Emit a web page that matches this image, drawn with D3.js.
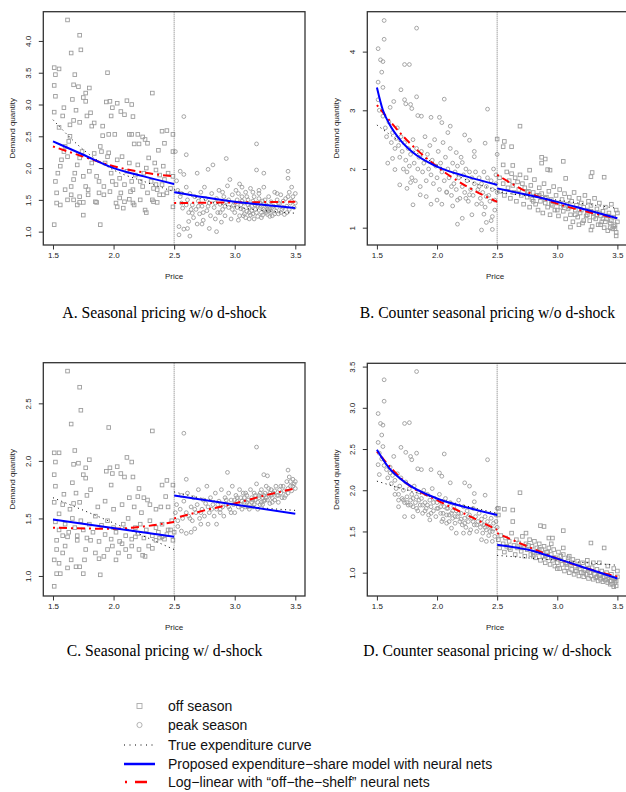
<!DOCTYPE html>
<html><head><meta charset="utf-8">
<script src="https://cdn.jsdelivr.net/npm/d3@7"></script>
<style>body{margin:0;background:#fff}svg{display:block}</style>
</head><body>
<svg id="c" width="626" height="792"></svg>
<script>
const xTicks = [1.5, 2.0, 2.5, 3.0, 3.5];
const titles = ["A. Seasonal pricing w/o d-shock","B. Counter seasonal pricing w/o d-shock","C. Seasonal pricing w/ d-shock","D. Counter seasonal pricing w/ d-shock"];
const yTicksA = [1.0,1.5,2.0,2.5,3.0,3.5,4.0];
const yTicksB = [1,2,3,4];
const yTicksC = [1.0,1.5,2.0,2.5];
const yTicksD = [1.0,1.5,2.0,2.5,3.0,3.5];
const legendLabels = ["off season","peak season","True expenditure curve","Proposed expenditure\u2212share model with neural nets","Log\u2212linear with \u201coff\u2212the\u2212shelf\u201d neural nets"];

// Panel A points
const aOff = [[1.62,4.33],[1.72,4.09],[1.73,3.86],[1.65,3.81],[1.68,3.47],[1.51,3.58],[1.55,3.56],[1.52,3.47],[1.51,3.30],[1.67,3.31],[1.71,3.28],[1.80,3.26],[1.77,3.18],[1.75,3.11],[1.77,3.05],[1.52,3.13],[1.66,3.08],[1.59,2.95],[1.51,2.88],[1.69,2.91],[1.78,2.82],[1.81,2.87],[1.67,2.75],[1.72,2.72],[1.58,2.82],[1.64,2.68],[1.55,2.64],[1.82,2.66],[1.84,2.71],[1.91,2.66],[1.95,3.50],[1.94,3.04],[1.97,3.05],[2.03,3.02],[1.99,2.95],[1.98,2.82],[2.06,2.89],[2.11,3.06],[2.15,3.00],[2.09,2.84],[2.16,2.81],[2.32,3.18],[2.01,2.53],[1.96,2.53],[1.91,2.51],[2.13,2.53],[2.15,2.53],[2.20,2.53],[2.24,2.49],[2.26,2.45],[2.28,2.39],[2.40,2.58],[2.44,2.59],[2.49,2.53],[2.42,2.39],[2.37,2.28],[2.49,2.26],[2.21,2.38],[2.17,2.38],
[1.51,1.11],[1.89,1.11],[1.75,1.26],[1.53,1.45],[1.56,1.42],[1.62,1.50],[1.67,1.50],[1.70,1.42],[1.72,1.46],[1.75,1.46],[1.85,1.47],[1.86,1.46],[1.92,1.58],[2.02,1.45],[2.03,1.39],[2.08,1.37],[2.09,1.47],[2.16,1.45],[2.13,1.51],[2.17,1.42],[2.22,1.50],[2.26,1.34],[2.27,1.30],[2.32,1.50],[2.33,1.47],[2.36,1.46],[2.41,1.58],[2.49,1.39],[2.05,1.53],
[1.52,1.79],[1.54,1.92],[1.56,2.03],[1.57,2.13],[1.59,2.26],[1.60,2.34],[1.62,2.18],[1.63,2.42],[1.64,2.50],[1.65,1.71],[1.67,1.82],[1.68,1.92],[1.70,2.05],[1.72,2.16],[1.74,2.26],[1.75,1.87],[1.77,1.71],[1.79,1.66],[1.80,1.95],[1.82,2.08],[1.84,2.23],[1.86,1.87],[1.88,1.79],[1.89,2.34],[1.90,2.26],[1.92,1.71],[1.93,2.08],[1.95,2.18],[1.96,2.24],[1.98,1.92],[1.99,1.79],[2.02,1.74],[2.03,2.13],[2.05,1.84],[2.07,2.18],[2.09,1.74],[2.11,1.95],[2.13,2.08],[2.15,1.79],[2.16,1.66],[2.18,1.89],[2.20,2.05],[2.22,1.79],[2.24,1.71],[2.25,1.92],[2.27,2.00],[2.29,2.16],[2.31,1.79],[2.33,1.68],[2.34,2.08],[2.35,1.97],[2.36,1.66],[2.38,1.89],[2.40,1.74],[2.41,2.03],[2.42,1.82],[2.44,1.61],[2.45,1.92],[2.47,1.68],[2.49,1.87],
[1.53,1.61],[1.60,1.66],[1.65,1.58],[1.72,1.55],[1.79,1.58],[1.88,1.61],[1.97,1.63],[2.06,1.61],[2.14,1.63],[2.28,1.61],[2.35,1.74],[2.38,1.58]];
const aPeak = [[2.58,2.81],[3.18,2.38],[2.60,2.21],[2.93,2.15],[2.51,2.26],[3.44,1.95],[3.18,1.97],[3.24,1.92],[2.61,1.05],[2.63,0.93],[2.54,0.95],[2.54,1.08],[2.58,1.04],[2.85,1.00],[2.79,1.05],[2.69,1.12],[2.73,1.12],[2.62,1.16],[2.65,1.29],
[2.52,1.80],[2.53,1.65],[2.55,1.55],[2.56,1.45],[2.57,1.37],[2.55,1.95],[2.58,1.90],[2.60,1.70],[2.61,1.50],[2.62,1.30],[2.63,1.60],[2.65,1.42],[2.66,1.22],[2.67,1.55],[2.68,1.35],[2.69,1.92],[2.70,1.48],[2.71,1.28],[2.72,1.62],[2.73,1.40],[2.74,1.18],[2.75,1.70],[2.76,1.52],[2.77,1.33],[2.78,1.98],[2.79,1.45],[2.80,1.25],[2.81,1.60],[2.82,2.05],[2.83,1.38],[2.84,1.20],[2.85,1.52],[2.86,1.30],[2.87,1.65],[2.88,1.43],[2.89,1.15],[2.90,1.35],[2.91,1.55],[2.92,1.25],[2.93,1.47],[2.94,1.72],[2.95,1.38],[2.96,1.82],[2.97,1.20],[2.98,1.58],[2.99,1.42],[3.00,1.30],[3.01,1.65],[3.02,1.50],[3.03,1.18],[3.04,1.75],[3.05,1.36],[3.06,1.55],[3.07,1.25],[3.08,1.45],[3.09,1.62],[3.10,1.32],[3.11,1.50],[3.12,1.20],[3.13,1.68],[3.14,1.40],[3.15,1.28],[3.16,1.55],[3.17,1.35],[3.18,1.45],[3.19,1.24],[3.20,1.60],[3.21,1.38],[3.22,1.30],[3.23,1.48],[3.24,1.70],[3.25,1.33],[3.26,1.42],[3.27,1.27],[3.28,1.55],[3.29,1.36],[3.30,1.47],[3.31,1.25],[3.32,1.40],[3.33,1.62],[3.34,1.32],[3.35,1.50],[3.36,1.28],[3.37,1.44],[3.38,1.58],[3.39,1.35],[3.40,1.48],[3.41,1.27],[3.42,1.52],[3.43,1.40],[3.44,1.84],[3.45,1.62],[3.46,1.45],[3.47,1.70],[3.48,1.55],[3.49,1.38],[3.50,1.60],[3.50,1.45],
[3.05,1.42],[3.08,1.28],[3.12,1.38],[3.15,1.48],[3.18,1.30],[3.21,1.45],[3.24,1.35],[3.27,1.40],[3.30,1.32],[3.10,1.55],[3.00,1.45],[2.95,1.50],[3.20,1.52],[3.25,1.50],[3.35,1.38],[3.03,1.60],[3.13,1.26],[3.23,1.26],[3.28,1.33],[3.15,1.62],
[3.02,1.38],[3.04,1.25],[3.06,1.48],[3.09,1.22],[3.11,1.42],[3.14,1.33],[3.16,1.20],[3.19,1.40],[3.22,1.22],[3.24,1.44],[3.26,1.30],[3.29,1.24],[3.31,1.38],[3.33,1.28],[3.36,1.45],[3.38,1.30],[3.40,1.38],[3.43,1.30],[3.45,1.35],[3.47,1.48],[3.07,1.35],[3.17,1.42],[3.27,1.35],[3.12,1.30],[3.22,1.40],[2.98,1.35],[2.92,1.40],[2.88,1.30],[2.84,1.45],[2.78,1.40],[2.74,1.30],[2.70,1.40],[2.64,1.35],[2.60,1.42],[2.56,1.60],[2.90,1.62],[3.06,1.70],[3.20,1.65],[3.35,1.60],[3.44,1.55]];

// Panel B points
const bPeak = [[1.56,4.53],[1.83,4.40],[1.51,4.05],[1.53,3.86],[1.55,3.83],[1.54,3.65],[1.56,4.21],[1.51,3.48],[1.55,3.39],[1.70,3.35],[1.73,3.78],[1.77,3.78],[1.83,3.23],[2.06,3.19],[1.64,3.15],[1.73,3.18],[1.74,3.11],[1.78,3.10],[1.51,3.18],[1.52,3.00],[1.61,3.05],[1.79,3.03],[1.84,2.91],[1.87,2.90],[1.95,2.88],[2.02,2.88],[2.04,2.79],[2.11,2.73],[2.09,2.62],[2.23,2.58],[2.27,2.49],[2.40,2.44],[2.42,3.02],[2.31,2.30],[2.31,2.21],[2.16,2.28],[2.21,2.11],[1.59,2.10],[1.63,2.18],[1.65,1.99],
[2.37,0.96],[2.46,0.97],[2.45,1.12],[2.41,1.09],[2.46,1.19],[2.29,1.22],[2.21,1.16],[2.17,1.06],[2.39,1.23],[2.13,1.37],[2.17,1.47],[1.95,1.40],[1.80,1.39],[2.04,1.40],[2.00,1.47],[1.91,1.53],[1.86,1.56],[2.24,1.50],[2.27,1.56],[2.35,1.70],[2.41,1.53],[2.48,1.47],[2.37,1.41],[2.12,1.70],[2.08,1.61],[1.69,1.73],[1.75,1.67],[1.78,1.77],
[1.55,2.90],[1.57,2.70],[1.58,2.55],[1.60,2.80],[1.62,2.45],[1.63,2.62],[1.65,2.35],[1.66,2.52],[1.67,2.70],[1.68,2.40],[1.69,2.20],[1.70,2.55],[1.71,2.30],[1.72,2.00],[1.73,2.45],[1.74,2.15],[1.75,1.95],[1.76,2.35],[1.77,2.05],[1.78,2.25],[1.79,1.85],[1.80,2.50],[1.81,2.10],[1.82,1.80],[1.83,2.35],[1.84,2.00],[1.85,2.20],[1.86,1.70],[1.87,2.30],[1.88,1.95],[1.89,2.10],[1.90,2.55],[1.91,1.80],[1.92,2.25],[1.93,2.00],[1.94,2.40],[1.95,1.90],[1.96,2.15],[1.97,1.75],[1.98,2.50],[1.99,2.05],[2.00,1.85],[2.01,2.30],[2.02,1.65],[2.03,2.10],[2.04,1.95],[2.05,2.45],[2.06,1.80],[2.07,2.20],[2.08,1.60],[2.09,2.00],[2.10,1.85],[2.11,2.35],[2.12,1.55],[2.13,2.10],[2.14,1.75],[2.15,1.95],[2.16,1.65],[2.17,2.05],[2.18,1.85],[2.19,1.50],[2.20,2.20],[2.21,1.70],[2.22,1.90],[2.23,1.60],[2.24,2.00],[2.25,1.80],[2.26,1.45],[2.27,1.95],[2.28,1.65],[2.29,1.85],[2.30,1.55],[2.31,1.75],[2.32,1.95],[2.33,1.40],[2.34,1.65],[2.35,1.85],[2.36,1.50],[2.37,1.75],[2.38,1.60],[2.39,1.95],[2.40,1.35],[2.41,1.70],[2.42,1.85],[2.43,1.55],[2.44,1.45],[2.45,1.80],[2.46,1.65],[2.47,2.00],[2.48,1.30],[2.49,1.90],[2.50,2.25],[2.50,1.60],[2.49,1.75]];
const bOff = [[2.69,2.73],[2.50,2.51],[2.56,2.47],[2.55,2.38],[2.62,2.38],[3.05,2.13],[2.87,2.20],[2.90,2.17],[2.55,2.07],[2.63,2.06],[2.77,1.98],[2.92,1.99],[2.94,1.98],[3.39,1.86],[3.28,1.87],[3.29,1.94],[3.07,1.84],[2.87,2.10],[3.28,0.96],[3.49,0.86],[3.18,1.05],[3.11,1.01],
[2.52,1.85],[2.53,1.62],[2.55,1.75],[2.56,1.55],[2.58,1.95],[2.59,1.68],[2.60,1.80],[2.61,1.50],[2.62,1.92],[2.63,1.72],[2.64,1.60],[2.65,1.85],[2.66,1.45],[2.67,1.78],[2.68,1.65],[2.69,1.90],[2.70,1.55],[2.71,1.75],[2.72,1.40],[2.73,1.68],[2.74,1.85],[2.75,1.52],[2.76,1.62],[2.77,1.35],[2.78,1.72],[2.79,1.48],[2.80,1.60],[2.81,1.82],[2.82,1.40],[2.83,1.55],[2.84,1.30],[2.85,1.68],[2.86,1.45],[2.87,1.58],[2.88,1.25],[2.89,1.75],[2.90,1.42],[2.91,1.52],[2.92,1.35],[2.93,1.62],[2.94,1.22],[2.95,1.48],[2.96,1.38],[2.97,1.70],[2.98,1.30],[2.99,1.55],[3.00,1.42],[3.01,1.20],[3.02,1.65],[3.03,1.35],[3.04,1.48],[3.05,1.28],[3.06,1.58],[3.07,1.15],[3.08,1.40],[3.09,1.32],[3.10,1.52],[3.11,1.22],[3.12,1.45],[3.13,1.10],[3.14,1.60],[3.15,1.30],[3.16,1.38],[3.17,1.18],[3.18,1.50],[3.19,1.25],[3.20,1.42],[3.21,1.08],[3.22,1.35],[3.23,1.55],[3.24,1.20],[3.25,1.30],[3.26,1.45],[3.27,1.12],[3.28,1.38],[3.29,1.02],[3.30,1.25],[3.31,1.50],[3.32,1.15],[3.33,1.32],[3.34,1.05],[3.35,1.42],[3.36,1.20],[3.37,1.10],[3.38,1.28],[3.39,1.00],[3.40,1.35],[3.41,1.15],[3.42,0.95],[3.43,1.25],[3.44,1.08],[3.45,1.40],[3.46,0.98],[3.47,1.18],[3.48,1.05],[3.49,0.92],[3.50,1.25],[3.50,1.10],[3.49,1.30],
[3.20,1.30],[3.25,1.22],[3.30,1.18],[3.35,1.25],[3.40,1.10],[3.45,1.12],[3.47,1.02],[3.42,1.20],[3.38,1.15],[3.33,1.22],[3.28,1.28],[3.15,1.22],[3.10,1.35],[3.05,1.38],[3.00,1.30],[2.95,1.40],[2.90,1.50],[2.85,1.55],[2.80,1.45],[2.75,1.60],[3.36,1.05],[3.44,1.00],[3.48,0.98],[3.22,1.12]];

// Panel C points
const cOff = [[1.62,2.78],[1.72,2.64],[1.73,2.44],[1.65,2.32],[1.96,2.29],[2.32,2.26],[1.68,2.09],[1.51,2.07],[1.55,2.07],[1.52,1.99],[1.67,1.97],[1.71,1.98],[1.80,2.01],[1.77,1.94],[1.75,1.88],[1.51,1.88],[1.77,1.85],[1.52,1.78],[1.66,1.81],[1.94,1.91],[1.97,1.94],[2.03,1.95],[1.99,1.89],[1.98,1.79],[2.06,1.89],[2.11,2.03],[2.15,1.99],[2.09,1.86],[2.16,1.86],[1.59,1.71],[1.51,1.64],[1.69,1.72],[1.78,1.70],[1.81,1.75],[1.67,1.63],[1.72,1.64],[1.58,1.62],[1.64,1.58],[1.55,1.54],[2.40,1.79],[2.44,1.83],[2.49,1.79],[2.39,1.60],[2.43,1.69],[2.20,1.69],[2.21,1.76],[2.25,1.68],[2.28,1.66],[2.13,1.68],[2.17,1.60],
[1.51,0.91],[1.53,1.02],[1.56,1.02],[1.89,1.01],[1.75,1.02],[1.72,1.08],[1.69,1.08],[1.62,1.07],[1.65,1.14],[1.76,1.14],[1.55,1.11],[1.51,1.14],[1.53,1.23],[1.58,1.20],[1.60,1.26],[1.53,1.31],[1.62,1.34],[1.70,1.31],[1.77,1.23],[1.81,1.31],[1.85,1.20],[1.88,1.15],[1.92,1.17],[1.95,1.23],[1.99,1.26],[2.02,1.14],[2.04,1.20],[2.07,1.28],[2.10,1.23],[2.13,1.17],[2.15,1.26],[2.18,1.34],[2.21,1.23],[2.24,1.18],[2.26,1.17],[2.29,1.26],[2.32,1.24],[2.35,1.31],[2.38,1.33],[2.40,1.34],[2.44,1.36],[2.47,1.40],[2.49,1.31],
[1.52,1.47],[1.55,1.40],[1.58,1.35],[1.60,1.45],[1.63,1.38],[1.66,1.50],[1.68,1.42],[1.70,1.35],[1.73,1.48],[1.75,1.40],[1.78,1.33],[1.80,1.45],[1.83,1.38],[1.85,1.52],[1.88,1.30],[1.90,1.44],[1.93,1.36],[1.95,1.48],[1.98,1.32],[2.00,1.42],[2.02,1.38],[2.05,1.30],[2.08,1.45],[2.10,1.35],[2.12,1.50],[2.15,1.32],[2.18,1.42],[2.20,1.37],[2.22,1.45],[2.25,1.33],[2.27,1.40],[2.30,1.48],[2.32,1.35],[2.35,1.42],[2.37,1.38],[2.40,1.45],[2.42,1.32],[2.45,1.40],[2.48,1.48],[2.50,1.38],[1.87,1.60],[1.93,1.65],[2.00,1.58],[2.07,1.62],[2.23,1.55],[2.30,1.62],[2.35,1.58],[2.45,1.60]];
const cPeak = [[2.58,2.24],[3.18,2.12],[2.94,1.90],[2.60,1.84],[3.44,1.92],[3.24,1.88],[3.27,1.87],[2.56,1.39],[2.60,1.37],[2.64,1.38],[2.67,1.41],[2.72,1.45],[2.78,1.45],[2.85,1.45],[2.53,1.43],
[2.51,1.55],[2.52,1.62],[2.53,1.48],[2.55,1.58],[2.56,1.70],[2.57,1.50],[2.58,1.65],[2.60,1.55],[2.61,1.72],[2.62,1.52],[2.64,1.60],[2.65,1.48],[2.66,1.68],[2.68,1.55],[2.69,1.62],[2.70,1.75],[2.71,1.50],[2.73,1.58],[2.74,1.66],[2.75,1.52],[2.77,1.78],[2.78,1.60],[2.79,1.55],[2.80,1.68],[2.82,1.62],[2.83,1.52],[2.84,1.72],[2.85,1.58],[2.87,1.65],[2.88,1.55],[2.89,1.75],[2.90,1.60],[2.91,1.52],[2.92,1.68],[2.93,1.62],[2.95,1.72],[2.96,1.58],[2.97,1.66],[2.98,1.78],[2.99,1.62],[3.00,1.55],[3.01,1.70],[3.02,1.65],[3.03,1.60],[3.04,1.75],[3.05,1.68],[3.06,1.58],[3.07,1.72],[3.08,1.64],[3.09,1.60],[3.10,1.70],[3.11,1.66],[3.12,1.62],[3.13,1.75],[3.14,1.68],[3.15,1.60],[3.16,1.72],[3.17,1.66],[3.18,1.80],[3.19,1.64],[3.20,1.70],[3.21,1.62],[3.22,1.75],[3.23,1.68],[3.24,1.65],[3.25,1.72],[3.26,1.78],[3.27,1.66],[3.28,1.70],[3.29,1.63],[3.30,1.75],[3.31,1.68],[3.32,1.72],[3.33,1.66],[3.34,1.78],[3.35,1.70],[3.36,1.64],[3.37,1.75],[3.38,1.72],[3.39,1.68],[3.40,1.78],[3.41,1.74],[3.42,1.70],[3.43,1.82],[3.44,1.76],[3.45,1.86],[3.46,1.78],[3.47,1.74],[3.48,1.84],[3.49,1.80],[3.50,1.76],[3.50,1.82],
[3.05,1.62],[3.10,1.64],[3.15,1.66],[3.20,1.68],[3.25,1.66],[3.30,1.70],[3.12,1.58],[3.22,1.64],[3.28,1.76],[3.00,1.66],[2.95,1.60],[2.88,1.58],
[3.02,1.68],[3.06,1.65],[3.09,1.72],[3.11,1.60],[3.14,1.64],[3.17,1.70],[3.19,1.58],[3.21,1.72],[3.23,1.62],[3.26,1.68],[3.29,1.72],[3.31,1.64],[3.33,1.74],[3.36,1.70],[3.38,1.78],[3.41,1.68],[3.44,1.72],[3.46,1.82],[3.48,1.78],[3.08,1.68],[3.16,1.62],[3.24,1.70],[2.97,1.55],[2.93,1.66],[2.86,1.62],[2.81,1.58],[2.76,1.63],[2.72,1.55],[2.67,1.58],[2.63,1.50]];

// Panel D points
const dPeak = [[1.83,3.44],[1.56,3.34],[1.56,3.08],[1.51,2.93],[1.53,2.81],[1.55,2.79],[1.54,2.67],[1.51,2.58],[1.55,2.53],[1.73,2.81],[1.77,2.82],[1.70,2.52],[1.83,2.45],[2.06,2.44],[2.42,2.37],[1.64,2.41],[1.74,2.46],[1.78,2.41],[1.51,2.31],[1.52,2.19],[1.61,2.21],[1.79,2.37],[1.84,2.26],[1.87,2.25],[1.95,2.25],[2.02,2.21],[2.04,2.17],[2.11,2.09],[2.23,2.09],[2.27,2.05],[2.40,1.94],[2.31,1.96],[2.31,1.86],
[2.16,1.48],[2.22,1.48],[2.27,1.48],[2.37,1.40],[2.41,1.38],[2.46,1.38],[2.12,1.54],[2.08,1.60],[2.04,1.62],[1.94,1.64],[1.80,1.68],[1.73,1.68],[1.68,1.80],
[1.52,2.45],[1.54,2.38],[1.56,2.30],[1.58,2.25],[1.59,2.15],[1.61,2.28],[1.62,2.08],[1.63,2.18],[1.65,2.12],[1.66,2.02],[1.67,2.20],[1.68,1.95],[1.69,2.05],[1.70,2.15],[1.71,1.90],[1.72,2.00],[1.73,1.85],[1.74,2.10],[1.75,1.92],[1.76,1.82],[1.77,2.02],[1.78,1.88],[1.79,1.95],[1.80,1.80],[1.81,2.05],[1.82,1.85],[1.83,1.92],[1.84,1.75],[1.85,1.98],[1.86,1.82],[1.87,1.90],[1.88,1.72],[1.89,2.00],[1.90,1.85],[1.91,1.78],[1.92,1.95],[1.93,1.70],[1.94,1.88],[1.95,1.80],[1.96,2.02],[1.97,1.75],[1.98,1.90],[1.99,1.68],[2.00,1.85],[2.01,1.78],[2.02,1.95],[2.03,1.72],[2.04,1.85],[2.05,1.65],[2.06,1.80],[2.07,1.90],[2.08,1.70],[2.09,1.78],[2.10,1.62],[2.11,1.85],[2.12,1.72],[2.13,1.66],[2.14,1.80],[2.15,1.60],[2.16,1.75],[2.17,1.68],[2.18,1.88],[2.19,1.62],[2.20,1.72],[2.21,1.58],[2.22,1.80],[2.23,1.66],[2.24,1.55],[2.25,1.75],[2.26,1.62],[2.27,1.70],[2.28,1.52],[2.29,1.66],[2.30,1.78],[2.31,1.58],[2.32,1.68],[2.33,1.50],[2.34,1.62],[2.35,1.72],[2.36,1.55],[2.37,1.65],[2.38,1.48],[2.39,1.58],[2.40,1.68],[2.41,1.52],[2.42,1.62],[2.43,1.45],[2.44,1.56],[2.45,1.66],[2.46,1.50],[2.47,1.60],[2.48,1.44],[2.49,1.70],[2.50,1.55],[2.50,1.78],[2.49,1.62],
[1.72,1.88],[1.75,1.85],[1.78,1.82],[1.80,1.90],[1.83,1.78],[1.85,1.88],[1.88,1.82],[1.90,1.75],[1.92,1.82],[1.95,1.72],[1.97,1.85],[2.00,1.78],[2.03,1.80],[2.05,1.72],[2.08,1.78],[2.10,1.70],[2.13,1.75],[2.15,1.68],[2.18,1.72],[2.20,1.65],[2.23,1.60],[2.26,1.68],[2.30,1.62],[2.33,1.58],[2.37,1.60],[2.40,1.55],[2.44,1.50],[2.47,1.53],[1.68,1.88],[1.65,1.95]];
const dOff = [[2.69,1.97],[2.63,1.76],[2.56,1.77],[2.51,1.70],[2.51,1.78],[2.86,1.57],[2.89,1.56],[3.05,1.51],[3.39,1.30],[3.28,1.36],[2.63,1.62],[2.74,1.48],[2.93,1.42],[2.96,1.42],
[2.51,1.40],[2.52,1.30],[2.53,1.45],[2.55,1.35],[2.56,1.25],[2.57,1.42],[2.58,1.32],[2.60,1.38],[2.61,1.28],[2.62,1.48],[2.64,1.33],[2.65,1.22],[2.66,1.40],[2.67,1.30],[2.68,1.36],[2.70,1.26],[2.71,1.44],[2.72,1.32],[2.73,1.20],[2.74,1.35],[2.75,1.28],[2.77,1.40],[2.78,1.22],[2.79,1.32],[2.80,1.25],[2.81,1.38],[2.82,1.18],[2.83,1.30],[2.84,1.24],[2.85,1.35],[2.86,1.15],[2.87,1.28],[2.88,1.20],[2.89,1.32],[2.90,1.12],[2.91,1.25],[2.92,1.18],[2.93,1.30],[2.94,1.10],[2.95,1.22],[2.96,1.15],[2.97,1.28],[2.98,1.08],[2.99,1.18],[3.00,1.12],[3.01,1.25],[3.02,1.05],[3.03,1.15],[3.04,1.10],[3.05,1.22],[3.06,1.02],[3.07,1.12],[3.08,1.06],[3.09,1.18],[3.10,1.00],[3.11,1.10],[3.12,1.04],[3.13,1.16],[3.14,0.98],[3.15,1.08],[3.16,1.02],[3.17,1.14],[3.18,0.96],[3.19,1.05],[3.20,1.00],[3.21,1.12],[3.22,0.95],[3.23,1.03],[3.24,0.98],[3.25,1.10],[3.26,0.93],[3.27,1.00],[3.28,0.96],[3.29,1.06],[3.30,0.92],[3.31,0.98],[3.32,0.94],[3.33,1.04],[3.34,0.90],[3.35,0.97],[3.36,0.92],[3.37,1.02],[3.38,0.89],[3.39,0.95],[3.40,0.91],[3.41,1.00],[3.42,0.88],[3.43,0.94],[3.44,0.90],[3.45,0.98],[3.46,0.86],[3.47,0.92],[3.48,0.88],[3.49,0.84],[3.50,0.95],[3.50,1.02],[3.49,0.90],
[3.10,1.20],[3.25,1.15],[3.30,1.12],[3.35,1.12],[3.42,1.08],[3.47,1.05],[2.95,1.35],[3.05,1.30],
[2.60,1.30],[2.70,1.30],[2.80,1.20],[2.90,1.20],[3.00,1.05],[3.08,1.10],[3.15,1.02],[3.22,1.00],[3.28,1.00],[3.33,0.95],[3.38,0.94],[3.42,0.92],[3.45,0.90],[3.48,0.93],[3.44,0.86],[3.47,0.83],[3.36,0.98],[3.26,1.05],[3.18,1.08],[3.12,1.12],[3.03,1.20],[2.97,1.18],[2.92,1.25],[2.85,1.28],[2.76,1.33]];

// Curves: true (dotted), proposed (blue), log-linear (red), each split at 2.5
const aTrue = [[[1.5,2.76],[1.75,2.29],[2.0,1.97],[2.25,1.79],[2.5,1.63]],[[2.5,1.66],[2.75,1.50],[3.0,1.39],[3.25,1.33],[3.5,1.29]]];
const aProp = [[[1.5,2.42],[1.75,2.21],[2.0,2.0],[2.25,1.87],[2.5,1.75]],[[2.5,1.62],[2.75,1.54],[3.0,1.47],[3.25,1.42],[3.5,1.37]]];
const aLog  = [[[1.5,2.34],[1.75,2.18],[2.0,2.03],[2.25,1.93],[2.5,1.87]],[[2.5,1.45],[3.0,1.46],[3.5,1.47]]];
const bTrue = [[[1.5,2.75],[1.75,2.38],[2.0,2.07],[2.25,1.81],[2.5,1.64]],[[2.5,1.61],[3.0,1.47],[3.5,1.33]]];
const bProp = [[[1.5,3.39],[1.55,3.0],[1.6,2.78],[1.7,2.48],[1.8,2.28],[2.0,2.04],[2.25,1.87],[2.5,1.73]],[[2.5,1.67],[2.75,1.56],[3.0,1.44],[3.25,1.30],[3.5,1.16]]];
const bLog  = [[[1.5,3.09],[1.75,2.49],[2.0,2.04],[2.25,1.70],[2.5,1.44]],[[2.5,1.90],[2.75,1.61],[3.0,1.41],[3.25,1.27],[3.5,1.16]]];
const cTrue = [[[1.5,1.68],[2.0,1.46],[2.5,1.23]],[[2.5,1.73],[3.0,1.62],[3.5,1.57]]];
const cProp = [[[1.5,1.49],[2.5,1.34]],[[2.5,1.70],[3.5,1.54]]];
const cLog  = [[[1.5,1.42],[2.0,1.41],[2.25,1.43],[2.5,1.47]],[[2.5,1.50],[2.75,1.57],[3.0,1.63],[3.25,1.70],[3.5,1.76]]];
const dTrue = [[[1.5,2.11],[2.0,1.90],[2.5,1.72]],[[2.5,1.21],[3.0,1.15],[3.5,1.09]]];
const dProp = [[[1.5,2.49],[1.6,2.27],[1.75,2.08],[2.0,1.90],[2.25,1.79],[2.5,1.70]],[[2.5,1.34],[2.75,1.28],[3.0,1.17],[3.25,1.05],[3.5,0.93]]];
const dLog  = [[[1.5,2.47],[1.75,2.08],[2.0,1.88],[2.25,1.70],[2.5,1.52]],[[2.5,1.48],[2.75,1.32],[3.0,1.17],[3.25,1.05],[3.5,0.95]]];

const svg = d3.select("#c");
const GRAY = "#9c9c9c";
const panels = [
  {L:43.3,R:305,T:11.7,B:245,yd:[0.79,4.46],yt:yTicksA,fmt:d3.format(".1f"),title:titles[0],tx:164.5,ty:318,off:aOff,peak:aPeak,tr:aTrue,pr:aProp,lg:aLog},
  {L:367.3,R:627,T:11.7,B:245,yd:[0.705,4.68],yt:yTicksB,fmt:d3.format("d"),title:titles[1],tx:487.5,ty:318,off:bOff,peak:bPeak,tr:bTrue,pr:bProp,lg:bLog},
  {L:43.3,R:305,T:362.7,B:596,yd:[0.826,2.853],yt:yTicksC,fmt:d3.format(".1f"),title:titles[2],tx:164.5,ty:656,off:cOff,peak:cPeak,tr:cTrue,pr:cProp,lg:cLog},
  {L:367.3,R:627,T:363.3,B:596,yd:[0.717,3.54],yt:yTicksD,fmt:d3.format(".1f"),title:titles[3],tx:487.5,ty:656,off:dOff,peak:dPeak,tr:dTrue,pr:dProp,lg:dLog}
];

panels.forEach(p => {
  const x = d3.scaleLinear().domain([1.42,3.58]).range([p.L,p.R]);
  const y = d3.scaleLinear().domain(p.yd).range([p.B,p.T]);
  const g = svg.append("g");
  const s = 3.6;
  g.selectAll(".sq").data(p.off).join("rect")
    .attr("x", d => x(d[0]) - s/2).attr("y", d => y(d[1]) - s/2)
    .attr("width", s).attr("height", s)
    .attr("fill","none").attr("stroke",GRAY).attr("stroke-width",0.9);
  g.selectAll(".ci").data(p.peak).join("circle")
    .attr("cx", d => x(d[0])).attr("cy", d => y(d[1])).attr("r", 1.9)
    .attr("fill","none").attr("stroke",GRAY).attr("stroke-width",0.9);
  g.append("line").attr("x1",x(2.5)).attr("x2",x(2.5)).attr("y1",p.T).attr("y2",p.B)
    .attr("stroke","#777").attr("stroke-width",1).attr("stroke-dasharray","1,1");
  const line = d3.line().x(d=>x(d[0])).y(d=>y(d[1])).curve(d3.curveMonotoneX);
  p.tr.forEach(seg => g.append("path").attr("d",line(seg)).attr("fill","none")
    .attr("stroke","#000").attr("stroke-width",1).attr("stroke-dasharray","1,3.5"));
  p.lg.forEach(seg => g.append("path").attr("d",line(seg)).attr("fill","none")
    .attr("stroke","#ff0000").attr("stroke-width",2).attr("stroke-dasharray","2,4,8,4"));
  p.pr.forEach(seg => g.append("path").attr("d",line(seg)).attr("fill","none")
    .attr("stroke","#0000ff").attr("stroke-width",2));
  g.append("rect").attr("x",p.L).attr("y",p.T).attr("width",p.R-p.L).attr("height",p.B-p.T)
    .attr("fill","none").attr("stroke","#333").attr("stroke-width",1.3);
  const xa = g.append("g").attr("transform",`translate(0,${p.B})`)
    .call(d3.axisBottom(x).tickValues(xTicks).tickFormat(d3.format(".1f")).tickSize(4.5).tickPadding(3));
  xa.select(".domain").remove();
  xa.selectAll("text").attr("font-family","Liberation Sans, Arial, sans-serif").attr("font-size",8).attr("fill","#222");
  xa.selectAll("line").attr("stroke","#333");
  const ya = g.append("g").attr("transform",`translate(${p.L},0)`)
    .call(d3.axisLeft(y).tickValues(p.yt).tickFormat(p.fmt).tickSize(4.5).tickPadding(0));
  ya.select(".domain").remove();
  ya.selectAll("line").attr("stroke","#333");
  ya.selectAll("text").attr("font-family","Liberation Sans, Arial, sans-serif").attr("font-size",8).attr("fill","#222")
    .attr("transform","rotate(-90)").attr("x",0).attr("y",-12).attr("dy",0).attr("text-anchor","middle");
  g.append("text").attr("x",(p.L+p.R)/2 - (p.R>620?2:0)).attr("y",p.B+34).attr("text-anchor","middle")
    .attr("font-family","Liberation Sans, Arial, sans-serif").attr("font-size",8).attr("fill","#222").text("Price");
  g.append("text").attr("transform",`translate(${p.L-28},${(p.T+p.B)/2}) rotate(-90)`).attr("text-anchor","middle")
    .attr("font-family","Liberation Sans, Arial, sans-serif").attr("font-size",8).attr("fill","#222").text("Demand quantity");
  svg.append("text").attr("x",p.tx).attr("y",p.ty).attr("text-anchor","middle")
    .attr("font-family","Liberation Serif, Times New Roman, serif").attr("font-size",15.7).attr("fill","#000").text(p.title);
});

const lg = svg.append("g");
const ly = [706,725,745,764,782];
lg.append("rect").attr("x",137).attr("y",ly[0]-2.5).attr("width",5).attr("height",5).attr("fill","none").attr("stroke","#aaa").attr("stroke-width",0.9);
lg.append("circle").attr("cx",139.5).attr("cy",ly[1]).attr("r",2.6).attr("fill","none").attr("stroke","#aaa").attr("stroke-width",0.9);
lg.append("line").attr("x1",124).attr("x2",155).attr("y1",ly[2]).attr("y2",ly[2]).attr("stroke","#000").attr("stroke-width",1).attr("stroke-dasharray","1,4.5");
lg.append("line").attr("x1",124).attr("x2",155).attr("y1",ly[3]).attr("y2",ly[3]).attr("stroke","#0000ff").attr("stroke-width",2.5);
lg.append("line").attr("x1",125).attr("x2",155).attr("y1",ly[4]).attr("y2",ly[4]).attr("stroke","#ff0000").attr("stroke-width",2.5).attr("stroke-dasharray","2,8,12,20");
lg.selectAll(".lt").data(legendLabels).join("text")
  .attr("x",168).attr("y",(d,i)=>ly[i]).attr("dy","0.35em")
  .attr("font-family","Liberation Sans, Arial, sans-serif").attr("font-size",14).attr("fill","#111").text(d=>d);
</script>
</body></html>
